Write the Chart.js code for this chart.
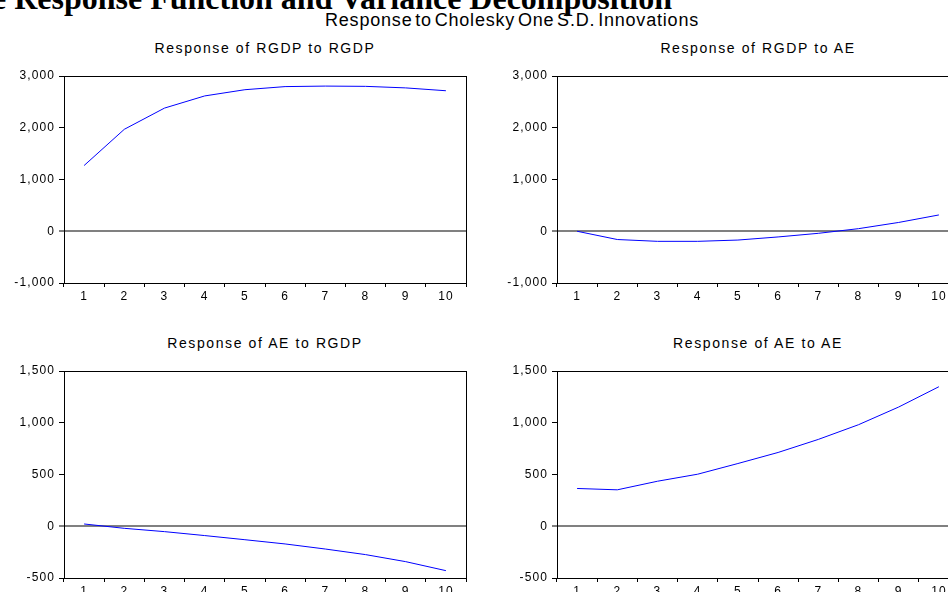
<!DOCTYPE html>
<html lang="en">

<head>
  <meta charset="UTF-8" />
  <title>impulse responses</title>
  <script src="https://cdn.jsdelivr.net/npm/chart.js@4.4.0/dist/chart.umd.min.js"></script>
  <style>
    html, body {
      margin: 0;
      width: 948px;
      height: 592px;
      overflow: hidden;
      background: #fff;
      position: relative;
    }
    .heading {
      position: absolute;
      right: 276px;
      top: -18px;
      font: bold 32px/32px 'Liberation Serif', 'Times New Roman', serif;
      white-space: nowrap;
      color: #000;
    }
    .subtitle {
      position: absolute;
      left: 262px;
      width: 500px;
      top: 11px;
      text-align: center;
      font: 18px/18px 'Liberation Sans', Arial, sans-serif;
      letter-spacing: 0.8px;
      word-spacing: -3px;
      white-space: nowrap;
    }
    .ptitle {
      position: absolute;
      width: 400px;
      text-align: center;
      font: 14px/14px 'Liberation Sans', Arial, sans-serif;
      letter-spacing: 1.6px;
      white-space: nowrap;
    }
    canvas { position: absolute; }
  </style>
</head>

<body>
  <div class="heading">Impulse Response Function and Variance Decomposition</div>
  <div class="subtitle">Response to Cholesky One S.D. Innovations</div>

  <div class="ptitle" style="left:65px;top:41px">Response of RGDP to RGDP</div>
  <div class="ptitle" style="left:558px;top:41px">Response of RGDP to AE</div>
  <div class="ptitle" style="left:65px;top:336px">Response of AE to RGDP</div>
  <div class="ptitle" style="left:558px;top:336px">Response of AE to AE</div>

  <canvas id="c1" width="480" height="245" style="left:0;top:60px"></canvas>
  <canvas id="c2" width="480" height="245" style="left:493px;top:60px"></canvas>
  <canvas id="c3" width="480" height="245" style="left:0;top:355px"></canvas>
  <canvas id="c4" width="480" height="245" style="left:493px;top:355px"></canvas>

  <script>
    // periods after the shock
    const periods = ['1', '2', '3', '4', '5', '6', '7', '8', '9', '10'];

    // responses
    const rgdpToRgdp = [1270, 1970, 2380, 2615, 2735, 2795, 2805, 2800, 2770, 2715];
    const rgdpToAe = [0, -160, -195, -195, -170, -110, -40, 50, 170, 315];
    const aeToRgdp = [22, -20, -52, -90, -130, -171, -220, -274, -342, -429];
    const aeToAe = [365, 352, 435, 503, 606, 713, 839, 981, 1152, 1348];

    // y ranges: [min, max, step]
    const rgdpRange = [-1000, 3000, 1000];
    const aeRange = [-500, 1500, 500];

    const tickFont = { family: "'Liberation Sans', Arial, sans-serif", size: 12 };

    // frame round the plot area + spaced tick text
    const boxPlugin = {
      id: 'box',
      beforeDraw(chart) {
        chart.ctx.letterSpacing = '1.1px';
      },
      afterDatasetsDraw(chart) {
        const a = chart.chartArea;
        const ctx = chart.ctx;
        ctx.save();
        ctx.strokeStyle = '#000';
        ctx.lineWidth = 1;
        ctx.strokeRect(Math.round(a.left) + 0.5, Math.round(a.top) + 0.5,
          Math.round(a.right - a.left), Math.round(a.bottom - a.top));
        ctx.restore();
      }
    };

    function makeChart(id, values, range) {
      const ctx = document.getElementById(id).getContext('2d');
      return new Chart(ctx, {
        type: 'line',
        data: {
          labels: periods,
          datasets: [{
            data: values,
            borderColor: '#0000ff',
            borderWidth: 1,
            pointRadius: 0,
            tension: 0,
            fill: false
          }]
        },
        options: {
          responsive: false,
          animation: false,
          layout: { padding: { top: 16, right: 14, left: 0, bottom: 0 } },
          plugins: { legend: { display: false }, tooltip: { enabled: false } },
          scales: {
            x: {
              offset: true,
              border: { display: false },
              grid: {
                offset: true,
                drawOnChartArea: false,
                tickLength: 4,
                tickColor: '#000'
              },
              ticks: { font: tickFont, color: '#000', padding: 2, maxRotation: 0, autoSkip: false },
              afterFit(scale) { scale.height = 22; }
            },
            y: {
              min: range[0],
              max: range[1],
              border: { display: false },
              grid: {
                color: c => c.tick && c.tick.value === 0 ? '#808080' : 'rgba(0,0,0,0)',
                lineWidth: c => c.tick && c.tick.value === 0 ? 2 : 1,
                tickColor: '#000',
                tickWidth: 1,
                tickLength: 5
              },
              ticks: {
                stepSize: range[2],
                font: tickFont,
                color: '#000',
                padding: 4,
                callback: v => v.toLocaleString('en-US')
              },
              afterFit(scale) { scale.width = 64; }
            }
          }
        },
        plugins: [boxPlugin]
      });
    }

    makeChart('c1', rgdpToRgdp, rgdpRange);
    makeChart('c2', rgdpToAe, rgdpRange);
    makeChart('c3', aeToRgdp, aeRange);
    makeChart('c4', aeToAe, aeRange);
  </script>
</body>

</html>
